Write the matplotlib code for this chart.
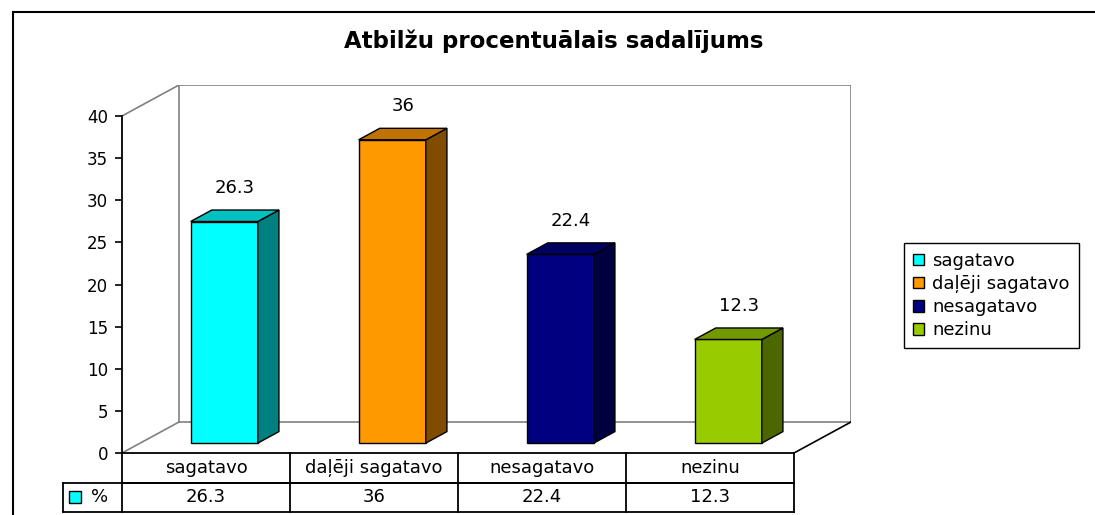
import matplotlib
matplotlib.use("Agg")
import matplotlib.pyplot as plt
from matplotlib.patches import Polygon, Rectangle, Patch

# data
categories = ['sagatavo', 'daļēji sagatavo', 'nesagatavo', 'nezinu']
values = [26.3, 36, 22.4, 12.3]
front_colors = ['#00FFFF', '#FF9900', '#000080', '#99CC00']
side_colors = ['#008080', '#804C00', '#000040', '#4C6600']
top_colors = ['#00C0C0', '#C07300', '#000060', '#739900']
yticks = [0, 5, 10, 15, 20, 25, 30, 35, 40]
title = 'Atbilžu procentuālais sadalījums'
series_name = '%'

plt.rcParams['font.family'] = ['DejaVu Sans']
FS = 13

fig = plt.figure(figsize=(10.95, 5.15), dpi=100)
fig.patch.set_facecolor('white')

# outer chart frame
fig.patches.append(Rectangle((13 / 1095, -0.2), 1.2, (515 - 12) / 515 + 0.2,
                             transform=fig.transFigure, fill=False,
                             edgecolor='black', linewidth=1.5))

ax = fig.add_axes([122 / 1095, 62 / 515, 729 / 1095, 368 / 515])
ax.set_facecolor('none')

# 3d depth offsets (data units)
D = 57 / 168.0
H = 31 / 8.425
ymax = 40
nx = len(categories)
ax.set_xlim(-0.5, nx - 0.5 + D)
ax.set_ylim(0, ymax + H)

# back wall and floor
grey = '#808080'
x0, x1 = -0.5, nx - 0.5
ax.plot([x0 + D, x0 + D, x1 + D, x1 + D, x0 + D],
        [H, ymax + H, ymax + H, H, H], color=grey, lw=1.2, zorder=1)
ax.plot([x0, x0 + D], [ymax, ymax + H], color=grey, lw=1.2, zorder=1)
ax.plot([x0, x0 + D], [0, H], color=grey, lw=1.2, zorder=1)
ax.plot([x1, x1 + D], [0, H], color='black', lw=1.2, zorder=1)

# 3d bars
fb = 0.32   # front of bar, fraction of depth
dd = 0.37   # bar depth, fraction of depth
w = 0.40
xs = list(range(nx))
xc = [x + fb * D for x in xs]
y0 = fb * H
ax.bar(xc, values, bottom=y0, width=w, color=front_colors,
       edgecolor='black', linewidth=1.0, zorder=3)
for i, v in enumerate(values):
    l = xc[i] - w / 2
    r = xc[i] + w / 2
    side = [(r, y0), (r + dd * D, y0 + dd * H), (r + dd * D, y0 + v + dd * H), (r, y0 + v)]
    top = [(l, y0 + v), (l + dd * D, y0 + v + dd * H), (r + dd * D, y0 + v + dd * H), (r, y0 + v)]
    ax.add_patch(Polygon(side, closed=True, facecolor=side_colors[i],
                         edgecolor='black', lw=1.0, zorder=3))
    ax.add_patch(Polygon(top, closed=True, facecolor=top_colors[i],
                         edgecolor='black', lw=1.0, zorder=3))
    ax.text(xc[i] + dd * D / 2, y0 + v + dd * H + 2.6, f'{v:g}',
            ha='center', va='center', fontsize=FS, zorder=4)

# axes
for s in ['top', 'right']:
    ax.spines[s].set_visible(False)
ax.spines['left'].set_bounds(0, ymax)
ax.spines['bottom'].set_bounds(x0, x1)
ax.spines['left'].set_linewidth(1.3)
ax.spines['bottom'].set_linewidth(1.3)
ax.set_yticks(yticks)
ax.set_yticklabels([str(t) for t in yticks], fontsize=12)
ax.tick_params(axis='y', direction='out', length=5, width=1.2, pad=5)
ax.set_xticks([])

# data table below the plot (in data units)
rh = 29.5 / 8.425          # row height
lab_w = 59 / 168.0         # width of the series label column
tkw = dict(color='black', lw=1.3, clip_on=False, zorder=5)
xl = x0 - lab_w
ax.plot([x0, x1], [-rh, -rh], **tkw)
ax.plot([xl, x1], [-rh, -rh], **tkw)
ax.plot([xl, x1], [-2 * rh, -2 * rh], **tkw)
ax.plot([xl, xl], [-rh, -2 * rh], **tkw)
for k in range(nx + 1):
    ax.plot([x0 + k, x0 + k], [0, -2 * rh], **tkw)
for i, c in enumerate(categories):
    ax.text(xs[i], -0.5 * rh, c, ha='center', va='center', fontsize=FS, clip_on=False)
    ax.text(xs[i], -1.5 * rh, f'{values[i]:g}', ha='center', va='center',
            fontsize=FS, clip_on=False)
ax.plot([xl + 0.07], [-1.5 * rh], marker='s', markersize=8,
        markerfacecolor=front_colors[0], markeredgecolor='black',
        markeredgewidth=1.0, clip_on=False, zorder=6)
ax.text(xl + 0.22, -1.5 * rh, series_name, ha='center', va='center',
        fontsize=FS, clip_on=False)

# title
fig.text(554 / 1095, (515 - 41) / 515, title, ha='center', va='center',
         fontsize=16.5, fontweight='bold')

# legend
handles = [Patch(facecolor=c, edgecolor='black', linewidth=1.0) for c in front_colors]
leg = fig.legend(handles, categories, loc='upper left',
                 bbox_to_anchor=(904 / 1095, (515 - 243) / 515),
                 borderaxespad=0, fontsize=FS, handlelength=0.6,
                 handleheight=0.6, handletextpad=0.45, labelspacing=0.28,
                 borderpad=0.5, fancybox=False, framealpha=1,
                 edgecolor='black')
leg.get_frame().set_linewidth(1.0)

fig.savefig('out.png', dpi=100, facecolor='white')
